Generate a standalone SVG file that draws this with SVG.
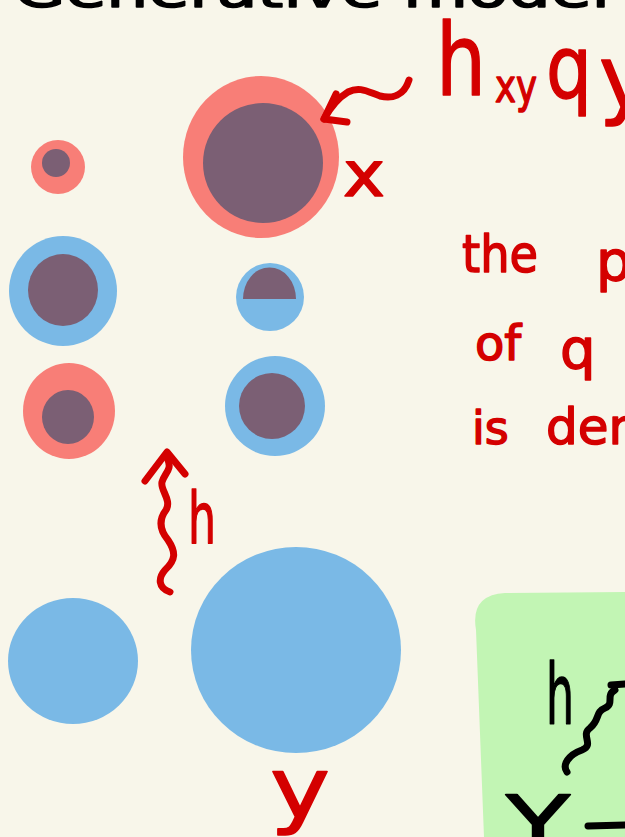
<svg xmlns="http://www.w3.org/2000/svg" width="625" height="837" viewBox="0 0 625 837">
<style>
.salmon{fill:#f87e77}
.blue{fill:#7ab9e6}
.purple{fill:#7b5f74}
.red{fill:#d40000;font-family:"DejaVu Sans","Liberation Sans",sans-serif;stroke:#d40000;stroke-width:1.5;stroke-linejoin:round}
.blk{fill:#000;font-family:"DejaVu Sans","Liberation Sans",sans-serif;stroke:#000;stroke-width:1.5;stroke-linejoin:round}
.rl{fill:none;stroke:#d40000;stroke-width:7;stroke-linecap:round;stroke-linejoin:round}
.bl{fill:none;stroke:#000;stroke-width:7;stroke-linecap:round;stroke-linejoin:round}
</style>
<rect width="625" height="837" fill="#f8f6ea"/>
<text class="blk" x="14" y="7" font-size="48" textLength="596" lengthAdjust="spacingAndGlyphs">Generative model</text>
<g id="green-panel"><path d="M476,630 Q470,595 505,593 L625,592 L625,837 L484,837 Z" fill="#c2f5b4"/></g>
<g id="circles">
<g id="c1"><circle class="salmon" cx="58" cy="167" r="27"/><circle class="purple" cx="56" cy="163" r="14"/></g>
<g id="c2"><ellipse class="blue" cx="63" cy="291" rx="54" ry="55"/><ellipse class="purple" cx="63" cy="290" rx="35" ry="36"/></g>
<g id="c3"><ellipse class="salmon" cx="69" cy="411" rx="46" ry="48"/><ellipse class="purple" cx="68" cy="417" rx="26" ry="27"/></g>
<g id="c4"><ellipse class="salmon" cx="261" cy="157" rx="78" ry="81"/><ellipse class="purple" cx="263" cy="163" rx="60" ry="60"/></g>
<g id="c5"><circle class="blue" cx="270" cy="297" r="34"/><path class="purple" d="M243,299 A26,31 0 0 1 296,299 Z"/></g>
<g id="c6"><ellipse class="blue" cx="275" cy="406" rx="50" ry="50"/><circle class="purple" cx="272" cy="406" r="33"/></g>
<g id="c7"><ellipse class="blue" cx="73" cy="661" rx="65" ry="63"/></g>
<g id="c8"><ellipse class="blue" cx="296" cy="650" rx="105" ry="103"/></g>
</g>
<g id="connectors">
<path class="rl" d="M409,80 C404,96 392,99 380,96 C368,92 360,86 348,92 C338,98 330,108 324,119"/>
<path class="rl" d="M336,94 L324,119 L347,122"/>
<path class="rl" d="M170,592 C158,588 158,578 165,570 C176,560 176,552 168,540 C158,528 160,518 166,510 C172,500 160,490 162,482 C165,472 172,470 168,460"/>
<path class="rl" d="M145,481 L167,452 L185,474"/>
<path class="bl" d="M567,772 C562,765 568,755 582,750 C595,745 580,735 590,728 C600,720 595,712 605,708 C615,704 605,695 615,690"/>
<path class="bl" d="M611,685 L625,684"/>
<path class="bl" d="M588,826 L625,825"/>
</g>
<g id="labels">
<text class="red" x="436" y="95" font-size="100" textLength="50" lengthAdjust="spacingAndGlyphs">h</text>
<text class="red" x="495" y="102" font-size="46" textLength="42" lengthAdjust="spacingAndGlyphs">xy</text>
<text class="red" x="546" y="98" font-size="88" textLength="46" lengthAdjust="spacingAndGlyphs">q</text>
<text class="red" x="599" y="108" font-size="88">y</text>
<text class="red" x="343" y="196" font-size="62" textLength="42" lengthAdjust="spacingAndGlyphs">x</text>
<text class="red" x="462" y="272" font-size="52" textLength="76" lengthAdjust="spacingAndGlyphs">the</text>
<text class="red" x="596" y="280" font-size="56">po</text>
<text class="red" x="475" y="360" font-size="48">of</text>
<text class="red" x="560" y="368" font-size="56">q</text>
<text class="red" x="472" y="444" font-size="46">is</text>
<text class="red" x="546" y="444" font-size="50">denoted</text>
<text class="red" x="188" y="543" font-size="72" textLength="28" lengthAdjust="spacingAndGlyphs">h</text>
<text class="red" x="270" y="818" font-size="84" textLength="60" lengthAdjust="spacingAndGlyphs">y</text>
<text class="blk" x="546" y="724" font-size="84" textLength="28" lengthAdjust="spacingAndGlyphs">h</text>
<text class="blk" x="506" y="852" font-size="78" textLength="64" lengthAdjust="spacingAndGlyphs">Y</text>
</g>
</svg>
